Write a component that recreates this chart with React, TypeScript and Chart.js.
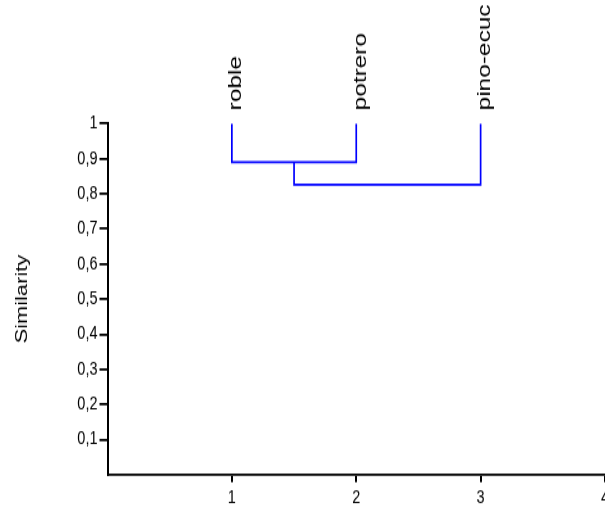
import React, { useEffect, useRef } from 'react';
import { Chart, registerables } from 'chart.js';

Chart.register(...registerables);

// ---- data ----
const leafNames = ['roble', 'potrero', 'pino-ecuc'];
const leafX = [1, 2, 3];
const leafTop = [1, 1, 1];
// similarity at which clusters join: (roble+potrero), then (+pino-ecuc)
const mergeHeights = [0.89, 0.826];
const xRange = [0, 4];
const yRange = [0, 1];

// ---- layout (final page pixels) ----
const S = 1.28; // vertical stretch of the reference image
const W = 640;
const H = 508 / S;
const FONT = '"Liberation Sans", Arial, Helvetica, sans-serif';

const fmtY = (v: number) => (v === 0 ? '' : String(Number(v.toFixed(1))).replace('.', ','));

const leafLabelsPlugin = {
  id: 'leafLabels',
  afterDraw(chart: any) {
    const { ctx, scales } = chart;
    ctx.save();
    ctx.font = `19px ${FONT}`;
    ctx.fillStyle = '#000';
    ctx.textAlign = 'left';
    ctx.textBaseline = 'alphabetic';
    leafNames.forEach((name, i) => {
      const x = scales.x.getPixelForValue(leafX[i]);
      const y = scales.y.getPixelForValue(leafTop[i]) - 13.3 / S;
      ctx.save();
      ctx.translate(x + 9.5, y);
      ctx.rotate(-Math.PI / 2);
      ctx.fillText(name, 0, 0);
      ctx.restore();
    });
    ctx.restore();
  },
};

export default function App() {
  const ref = useRef<HTMLCanvasElement | null>(null);

  useEffect(() => {
    if (!ref.current) return;
    const mid = (leafX[0] + leafX[1]) / 2;
    const clusterA = [
      { x: leafX[0], y: leafTop[0] },
      { x: leafX[0], y: mergeHeights[0] },
      { x: leafX[1], y: mergeHeights[0] },
      { x: leafX[1], y: leafTop[1] },
    ];
    const clusterB = [
      { x: mid, y: mergeHeights[0] },
      { x: mid, y: mergeHeights[1] },
      { x: leafX[2], y: mergeHeights[1] },
      { x: leafX[2], y: leafTop[2] },
    ];
    const lineStyle = {
      showLine: true,
      borderColor: '#0000ff',
      backgroundColor: '#0000ff',
      borderWidth: 1.7,
      pointRadius: 0,
      tension: 0,
      fill: false,
    };
    const tickColor = (c: any) => (c.tick && c.tick.value === 0 ? 'rgba(0,0,0,0)' : '#000');
    const chart = new Chart(ref.current, {
      type: 'scatter',
      data: {
        datasets: [
          { label: 'a', data: clusterA, ...lineStyle },
          { label: 'b', data: clusterB, ...lineStyle },
        ],
      },
      plugins: [leafLabelsPlugin],
      options: {
        animation: false,
        responsive: true,
        maintainAspectRatio: false,
        layout: { padding: { top: 123.3 / S, right: W - 605, bottom: 0, left: 0 } },
        plugins: { legend: { display: false }, tooltip: { enabled: false } },
        scales: {
          x: {
            type: 'linear',
            min: xRange[0],
            max: xRange[1],
            ticks: {
              stepSize: 1,
              callback: (v: any) => (v === 0 ? '' : String(v)),
              font: { family: FONT, size: 14.5 },
              color: '#000',
              padding: 4,
              maxRotation: 0,
              autoSkip: false,
            },
            grid: {
              display: true,
              drawOnChartArea: false,
              drawTicks: true,
              tickLength: 6,
              color: tickColor,
              lineWidth: 2,
            },
            border: { display: true, color: '#000', width: 1.8 },
            afterFit: (s: any) => {
              s.height = H - 473.3 / S;
            },
          },
          y: {
            type: 'linear',
            min: yRange[0],
            max: yRange[1],
            ticks: {
              stepSize: 0.1,
              callback: (v: any) => fmtY(Number(v)),
              font: { family: FONT, size: 14.5 },
              color: '#000',
              padding: 2,
              autoSkip: false,
            },
            grid: {
              display: true,
              drawOnChartArea: false,
              drawTicks: true,
              tickLength: 8,
              color: tickColor,
              lineWidth: 1.8,
            },
            border: { display: true, color: '#000', width: 2 },
            title: {
              display: true,
              text: 'Similarity',
              font: { family: FONT, size: 17 },
              color: '#000',
              padding: { top: 12.5, bottom: 0 },
            },
            afterFit: (s: any) => {
              s.width = 107.5;
            },
          },
        },
      },
    } as any);
    return () => chart.destroy();
  }, []);

  return (
    <div style={{ position: 'fixed', left: 0, top: 0, width: 605, height: 508, overflow: 'hidden', background: '#fff' }}>
      <div style={{ width: W, height: H, transform: `scaleY(${S})`, transformOrigin: '0 0' }}>
        <canvas ref={ref} />
      </div>
    </div>
  );
}
